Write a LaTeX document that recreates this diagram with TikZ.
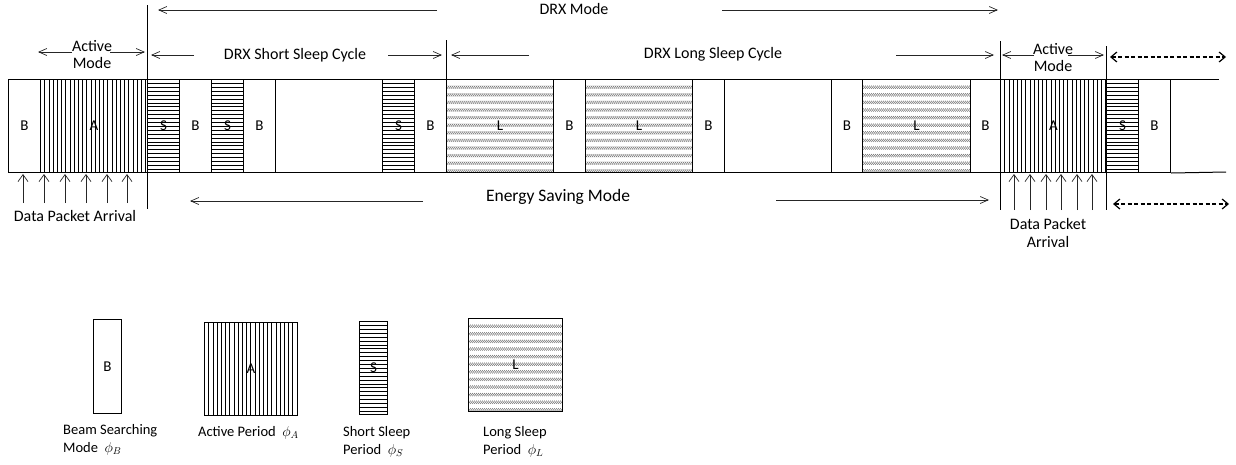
\documentclass[tikz,border=0pt]{standalone}
\usepackage{fontspec}
\setmainfont{Carlito}
\usetikzlibrary{arrows.meta}
\newcommand{\fsz}[1]{\fontsize{#1}{#1}\selectfont}
\newcommand{\fszb}[2]{\fontsize{#1}{#2}\selectfont}
\begin{document}
\begin{tikzpicture}[x=1pt,y=-1pt,
  every node/.style={inner sep=0pt},
  cell/.style={draw, line width=1pt, anchor=north west, minimum height=93pt, font=\fsz{15}},
  vh/.style={path picture={\foreach \i in {1,...,30}{\draw[line width=0.8pt] ([xshift=\i*4.2pt]path picture bounding box.north west) -- ([xshift=\i*4.2pt]path picture bounding box.south west);}}},
  hh/.style={path picture={\foreach \i in {1,...,26}{\draw[line width=0.8pt] ([yshift=-\i*3.9pt]path picture bounding box.north west) -- ([yshift=-\i*3.9pt]path picture bounding box.north east);}}},
  lh/.style={path picture={
      \foreach \r in {0,...,12}{\draw[black!55, line width=0.6pt] \foreach \k in {0,...,60}{(\k*2-60, -42+\r*7.6) -- ++(2.4,-3.2)};}
    }},
  arr/.style={line width=0.7pt, black!85, -{Straight Barb[length=8pt,width=7pt]}},
  uparr/.style={line width=0.7pt, black!85, -{Straight Barb[length=7pt,width=10pt]}},
  darr/.style={line width=1.2pt, dash pattern=on 4pt off 2.5pt, {Straight Barb[length=6pt,width=10pt]}-{Straight Barb[length=6pt,width=10pt]}},
  sep/.style={line width=0.8pt},
  lbl/.style={font=\fsz{16}},
  two/.style={align=center, font=\fszb{16}{#1}},
  leg/.style={font=\fszb{14.5}{18}, align=left, anchor=north west},
]
\useasboundingbox (0,0) rectangle (1236,464);

% ---- strip cells ----
\node[cell, minimum width=32pt] (c1) at (8,79) {B};
\node[cell, vh, minimum width=107pt] (c2) at (40,79) {A};
\node[cell, hh, minimum width=32pt] (c3) at (147,79) {S};
\node[cell, minimum width=32pt] (c4) at (179,79) {B};
\node[cell, hh, minimum width=32pt] (c5) at (211,79) {S};
\node[cell, minimum width=32pt] (c6) at (243,79) {B};
\node[cell, minimum width=107pt] (c7) at (275,79) {};
\node[cell, hh, minimum width=32pt] (c8) at (382,79) {S};
\node[cell, minimum width=32pt] (c9) at (414,79) {B};
\node[cell, lh, minimum width=107pt] (c10) at (446,79) {L};
\node[cell, minimum width=32pt] (c11) at (553,79) {B};
\node[cell, lh, minimum width=107pt] (c12) at (585,79) {L};
\node[cell, minimum width=32pt] (c13) at (692,79) {B};
\node[cell, minimum width=107pt] (c14) at (724,79) {};
\node[cell, minimum width=31pt] (c15) at (831,79) {B};
\node[cell, lh, minimum width=108pt] (c16) at (862,79) {L};
\node[cell, minimum width=30pt] (c17) at (970,79) {B};
\node[cell, vh, minimum width=106pt] (c18) at (1000,79) {A};
\node[cell, hh, minimum width=32pt] (c19) at (1106,79) {S};
\node[cell, minimum width=32pt] (c20) at (1138,79) {B};
\coordinate (tend) at (1219,79);
\coordinate (bend) at (1226,172);
\draw[line width=1pt] (c20.north east) -- (tend);
\draw[line width=1pt] (c20.south east) -- (bend);

% ---- separators ----
\coordinate (s1t) at (147,5);   \coordinate (s1b) at (147,209);
\coordinate (s2t) at (446,40);
\coordinate (s3t) at (1000,41); \coordinate (s3b) at (1000,210);
\coordinate (s4t) at (1106,46); \coordinate (s4b) at (1106,210);
\draw[sep] (s1t) -- (s1b);
\draw[sep] (s2t) -- (c10.north west);
\draw[sep] (s3t) -- (s3b);
\draw[sep] (s4t) -- (c19.north west);
\draw[sep] (c19.south west) -- (s4b);

% ---- labels ----
\node[lbl] (drx) at (574,9) {DRX Mode};
\node[lbl] (short) at (295,55) {DRX Short Sleep Cycle};
\node[lbl] (long) at (713,54) {DRX Long Sleep Cycle};
\node[two=17] (act1) at (92,55) {Active\\Mode};
\node[two=17] (act2) at (1053,58) {Active\\Mode};
\node[font=\fsz{17.5}] (esm) at (558,197) {Energy Saving Mode};
\node[lbl] (dpa1) at (75,216) {Data Packet Arrival};
\node[two=18] (dpa2) at (1048,233) {Data Packet\\Arrival};

% ---- span arrows ----
\coordinate (d1a) at (437,10); \coordinate (d1b) at (158,10);
\coordinate (d2a) at (722,10); \coordinate (d2b) at (998,10);
\draw[arr] (d1a) -- (d1b);
\draw[arr] (d2a) -- (d2b);
\coordinate (sa) at (194,55); \coordinate (sb) at (151,55);
\coordinate (sc) at (388,55); \coordinate (sd) at (442,55);
\draw[arr] (sa) -- (sb);
\draw[arr] (sc) -- (sd);
\coordinate (la) at (529,55); \coordinate (lb) at (451,55);
\coordinate (lc) at (896,55); \coordinate (ld) at (994,55);
\draw[arr] (la) -- (lb);
\draw[arr] (lc) -- (ld);
\coordinate (aa) at (72,52); \coordinate (ab) at (38,52);
\coordinate (ac) at (110,52); \coordinate (ad) at (145,52);
\draw[arr] (aa) -- (ab);
\draw[arr] (ac) -- (ad);
\coordinate (ra) at (1034,55); \coordinate (rb) at (1002,55);
\coordinate (rc) at (1068,55); \coordinate (rd) at (1104,55);
\draw[arr] (ra) -- (rb);
\draw[arr] (rc) -- (rd);
\coordinate (ea) at (423,201); \coordinate (eb) at (190,201);
\coordinate (ec) at (776,200); \coordinate (ed) at (989,200);
\draw[arr] (ea) -- (eb);
\draw[arr] (ec) -- (ed);
\coordinate (xa) at (1110,57); \coordinate (xb) at (1226,57);
\coordinate (xc) at (1113,204); \coordinate (xd) at (1229,204);
\draw[darr] (xa) -- (xb);
\draw[darr] (xc) -- (xd);

% ---- data packet arrivals ----
\foreach \x [count=\n] in {23,44,65,86,107,127}{
  \coordinate (pl\n) at (\x,203);
  \draw[uparr] (pl\n) -- (\x,174);
}
\foreach \x [count=\n] in {1014,1030,1046,1061,1077,1092}{
  \coordinate (pr\n) at (\x,210);
  \draw[uparr] (pr\n) -- (\x,174);
}

% ---- legend ----
\node[cell, minimum width=28pt, minimum height=94pt] (gb) at (93,319) {B};
\node[cell, vh, minimum width=93pt, minimum height=93pt] (ga) at (204,322) {A};
\node[cell, hh, minimum width=28pt, minimum height=93pt] (gs) at (359,321) {S};
\node[cell, lh, minimum width=94pt, minimum height=93pt] (gl) at (468,318) {L};
\node[leg] (tb) at (63,424) {Beam Searching\\Mode \ $\phi_B$};
\node[leg] (ta) at (198,426) {Active Period \ $\phi_A$};
\node[leg] (ts) at (343,426) {Short Sleep\\Period \ $\phi_S$};
\node[leg] (tl) at (483,426) {Long Sleep\\Period \ $\phi_L$};
\end{tikzpicture}
\end{document}
